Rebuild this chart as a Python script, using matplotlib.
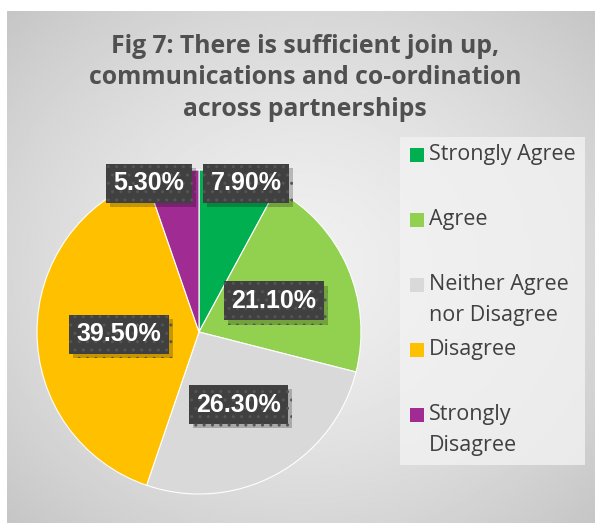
import numpy as np
import matplotlib.pyplot as plt
import matplotlib.patheffects as pe
from matplotlib.patches import Rectangle

# data
categories = ["Strongly Agree", "Agree", "Neither Agree\nnor Disagree",
              "Disagree", "Strongly\nDisagree"]
values = [7.9, 21.1, 26.3, 39.5, 5.3]
pct_labels = ["7.90%", "21.10%", "26.30%", "39.50%", "5.30%"]
colors = ["#00b050", "#92d050", "#d9d9d9", "#ffc000", "#a02b93"]
title = "Fig 7: There is sufficient join up,\ncommunications and co-ordination\nacross partnerships"

W, H = 595, 523
fig = plt.figure(figsize=(W / 100, H / 100), dpi=100)
fig.patch.set_facecolor("white")

# gradient background of the chart area
bg = fig.add_axes([7 / W, 0, 1 - 7 / W, 1 - 11 / H])
yy, xx = np.mgrid[0:1:300j, 0:1:300j]
d = np.sqrt(((xx - 0.5) / 0.75) ** 2 + ((yy - 0.5) / 0.75) ** 2)
shade = 0.94 - 0.18 * np.clip(d, 0, 1) ** 1.5
bg.imshow(shade, cmap="gray", vmin=0, vmax=1, extent=[0, 1, 0, 1],
          aspect="auto", interpolation="bilinear")
bg.set_axis_off()

fig.text(305 / W, 1 - 78 / H, title, ha="center", va="center",
         fontsize=17.8, fontweight="bold", color="#505050",
         family="Open Sans", linespacing=1.35)

# pie
cx, cy, r = 199, 332, 162
ax = fig.add_axes([(cx - r) / W, (H - cy - r) / H, 2 * r / W, 2 * r / H])
wedges, _ = ax.pie(values, colors=colors, startangle=90, counterclock=False,
                   radius=1, wedgeprops=dict(edgecolor="white", linewidth=0.8))
ax.set_xlim(-1, 1)
ax.set_ylim(-1, 1)
ax.set_aspect("equal")

# label placement: distance from centre and angle nudge
dist = [0.964, 0.50, 0.51, 0.494, 0.968]
nudge = [-3.3, -1.1, 0.1, 1.6, 9.0]
for w, lab, dd, nd in zip(wedges, pct_labels, dist, nudge):
    ang = np.deg2rad((w.theta1 + w.theta2) / 2 + nd)
    x, y = dd * np.cos(ang), dd * np.sin(ang)
    t = ax.text(x, y, lab, ha="center", va="center", fontsize=18,
                fontweight="bold", color="white", family="Liberation Sans",
                bbox=dict(boxstyle="square,pad=0.3", fc="#404040", ec="#555555",
                          hatch="..", linewidth=0))
    t.get_bbox_patch().set_path_effects(
        [pe.SimplePatchShadow(offset=(3, -3), shadow_rgbFace="black", alpha=0.22),
         pe.Normal()])

# legend
leg = fig.add_axes([0, 0, 1, 1])
leg.set_xlim(0, W)
leg.set_ylim(H, 0)
leg.set_axis_off()
leg.add_patch(Rectangle((400, 137), 185, 328, fc="#f2f2f2", ec="none", alpha=0.8))
for i, (lab, c) in enumerate(zip(categories, colors)):
    y0 = 155 + 65 * i
    leg.add_patch(Rectangle((410, y0 - 7), 14, 14, fc=c, ec="none"))
    leg.text(429, y0 - 11, lab, ha="left", va="top", fontsize=15.5,
             color="#404040", family="Open Sans", linespacing=1.6)

fig.savefig("out.png", dpi=100)
